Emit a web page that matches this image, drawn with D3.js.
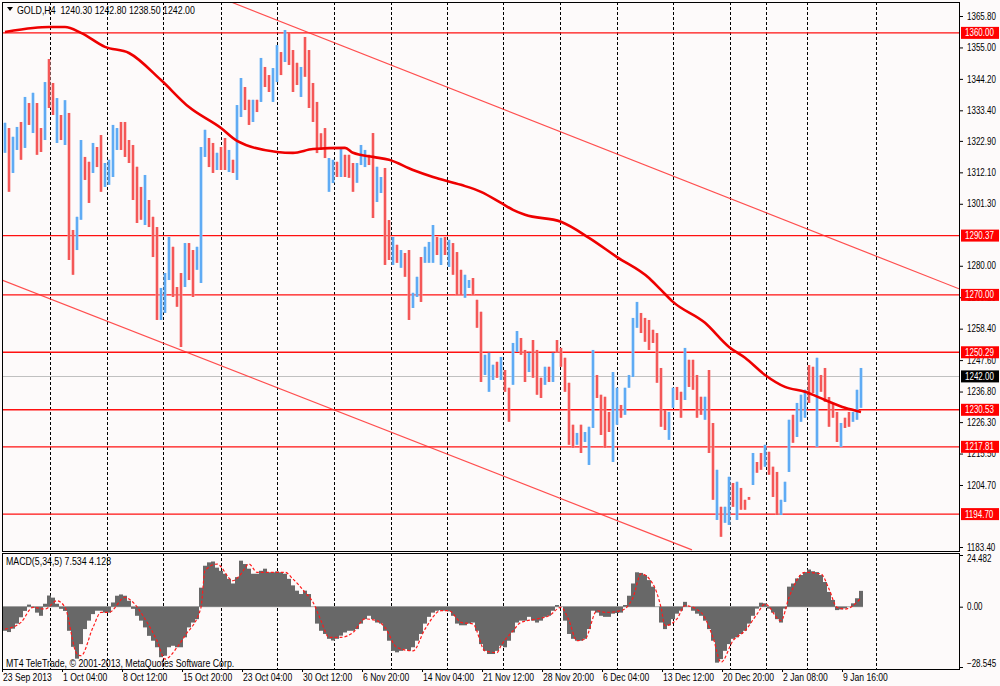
<!DOCTYPE html>
<html>
<head>
<meta charset="utf-8">
<script src="https://cdn.jsdelivr.net/npm/d3@7"></script>
<style>
body { margin: 0; background: #fdfafa; }
svg text { font-family: "Liberation Sans", Arial, sans-serif; font-size: 10px; fill: #000; }
</style>
</head>
<body>
<svg id="chart"></svg>
<script>
var screenWidth = 1000;
var screenHeight = 686;

// price bars (H4)
var highs = [1329.1,1327.3,1324.3,1327.7,1329.4,1338.0,1335.9,1339.4,1335.9,1327.3,
1343.1,1351.0,1342.8,1337.6,1331.8,1336.9,1332.5,1292.3,1296.8,1323.2,
1317.4,1315.7,1322.2,1320.8,1324.9,1315.3,1316.4,1328.4,1327.3,1329.4,
1329.4,1323.2,1321.5,1314.0,1307.1,1311.2,1302.6,1296.8,1293.3,1272.4,
1277.5,1289.9,1286.5,1272.7,1277.5,1287.8,1287.8,1285.4,1286.5,1320.8,
1326.7,1323.9,1322.2,1318.8,
1320.8,1323.9,1319.8,1316.4,1335.2,1344.5,1341.4,1337.0,1337.0,1337.0,
1351.4,1348.3,1345.5,1347.9,1355.8,1353.4,1361.0,1360.0,1354.1,1349.7,
1348.3,1358.6,1354.1,1342.8,1336.3,1325.5,1327.3,1317.0,1316.4,1315.7,
1320.5,1318.1,1318.1,1315.3,1315.3,1321.5,1319.8,1318.1,1325.6,1314.0,
1310.5,1313.6,1295.7,1289.9,1287.2,1285.4,1284.4,1285.4,1270.7,1276.2,
1283.0,1286.5,1288.2,1294.0,
1289.9,1289.6,1289.9,1288.9,1287.8,1284.7,1278.6,1276.9,1275.1,1275.8,
1268.3,1264.2,1249.4,1250.1,1246.0,1247.0,1248.7,1244.2,1238.1,1253.5,
1257.6,1255.2,1251.1,1250.1,1254.5,1251.1,1241.5,1245.3,1245.3,1250.1,
1254.5,1251.8,1248.4,1239.8,1225.4,1222.6,1225.4,1222.9,1224.7,1251.1,
1242.5,1235.7,1235.0,1229.8,1243.5,1238.1,1232.2,1238.1,1242.5,1262.1,
1267.6,1263.8,1262.1,1261.4,
1258.0,1256.9,1244.9,1230.5,1229.8,1238.1,1238.4,1236.7,1251.8,1247.7,
1247.7,1242.5,1235.0,1235.0,1244.2,1226.0,1209.9,1197.2,1197.2,1207.5,
1205.4,1205.8,1203.7,1199.6,1200.6,1215.7,1212.6,1215.7,1218.5,1216.1,
1211.0,1209.2,1199.6,1205.8,1227.1,1228.8,1232.9,1235.7,1237.4,1245.9,
1245.3,1248.4,1242.5,1244.9,1234.9,1232.9,1229.8,1226.0,1227.8,1229.8,
1229.8,1237.4,1244.9];

var lows = [1318.8,1305.4,1311.9,1319.8,1316.4,1320.5,1328.4,1325.6,1318.1,1319.1,
1323.2,1334.2,1331.8,1322.2,1323.2,1321.5,1282.0,1276.9,1285.4,1295.8,
1309.5,1301.6,1311.9,1313.9,1305.4,1307.1,1307.8,1310.5,1319.8,1319.8,
1317.4,1315.3,1302.6,1294.7,1295.8,1294.0,1293.3,1283.0,1261.4,1261.4,
1263.8,1275.1,1269.3,1265.9,1252.1,1272.7,1275.1,1269.3,1278.6,1274.1,
1317.4,1313.9,1311.9,1312.9,
1312.9,1312.9,1312.2,1311.9,1309.5,1331.1,1333.5,1328.4,1329.4,1332.8,
1336.3,1341.4,1339.7,1336.3,1343.1,1345.5,1350.0,1349.0,1339.7,1342.1,
1338.0,1344.9,1334.2,1329.4,1318.7,1319.8,1317.0,1305.4,1308.4,1310.5,
1310.5,1310.5,1310.2,1305.4,1308.5,1314.6,1313.9,1314.6,1296.4,1301.9,
1305.0,1280.3,1282.0,1280.3,1281.0,1279.3,1276.2,1261.4,1265.5,1269.3,
1267.6,1281.0,1281.0,1281.0,
1283.7,1280.3,1283.7,1279.6,1276.9,1270.0,1270.0,1269.0,1272.4,1270.0,
1258.7,1240.1,1242.5,1236.7,1240.8,1241.5,1240.8,1236.7,1226.4,1239.1,
1250.4,1249.4,1240.1,1243.5,1241.5,1235.7,1234.6,1239.1,1240.1,1240.1,
1250.1,1245.3,1236.7,1218.5,1217.5,1218.5,1215.7,1219.5,1211.6,1224.3,
1234.6,1221.9,1217.5,1222.9,1212.6,1225.4,1227.8,1228.8,1238.1,1241.8,
1258.7,1256.9,1253.9,1251.1,
1253.5,1239.8,1224.7,1223.6,1220.2,1231.2,1233.9,1227.8,1233.9,1238.4,
1237.4,1227.8,1228.8,1227.1,1215.7,1199.6,1192.7,1186.9,1191.7,1191.0,
1197.2,1192.7,1196.2,1196.2,1199.6,1204.7,1208.9,1209.9,1211.0,1208.2,
1200.6,1194.4,1194.4,1198.9,1209.2,1219.2,1221.2,1226.4,1227.8,1232.9,
1236.3,1217.8,1236.7,1233.3,1224.7,1227.8,1219.5,1217.8,1224.3,1224.7,
1226.4,1227.1,1231.2];

// u = bull bar, d = bear bar
var dirs = "uduudududd" + "uddududduu" + "ddudduuuud" + "dddddudddu" + "uudddudduu" + "uddu" +
  "dduduuddud" + "udduududdd" + "udddddduud" + "uddduuuddu" + "uddududduu" + "duuu" +
  "dududdduud" + "dduuududdu" + "uddudddudu" + "ddddduduuu" + "dddduuduuu" + "uddd" +
  "dddduuddud" + "dddudduduu" + "duddduddud" + "dduuuduuud" + "dudddddudd" + "uuu";

// moving average, [bar index, price]
var maIdx = [0,7,11,15,19,25,31,39,46,54,58,68,72,77,85,87,92,96,102,107,114,119,124,127,130,139,146,153,161,164,167,175,181,185,190,195,200,205,210,214];
var maVal = [1360.3,1361.7,1362.0,1362.0,1360.0,1355.2,1353.1,1343.8,1334.5,1327.3,1322.9,1319.1,1318.8,1320.1,1320.5,1318.8,1317.4,1316.4,1312.9,1310.5,1307.8,1305.4,1301.6,1299.2,1297.5,1295.1,1289.6,1283.0,1275.8,1271.7,1267.6,1260.4,1252.1,1248.4,1242.5,1238.4,1236.7,1233.9,1231.2,1229.8];

// horizontal levels and the channel
var levels = [1360.00, 1290.37, 1270.00, 1250.29, 1230.53, 1217.81, 1194.70];
var lastPrice = 1242.00;
var upperChannel = [[56.5, 1370.6], [238.5, 1272.1]];
var lowerChannel = [[-0.75, 1275.1], [171.75, 1182.4]];

// MACD(5,34,5)
var macd = [-11.4,-12,-10.4,-8,-5,-2,1,-0.5,-2.8,-4.3,
1.4,5.3,4.3,1.4,-1,-2,-11.4,-19,-24.6,-17.7,
-10.6,-6.6,-3.5,-1.9,-1.9,-2.8,-2.8,2,5.2,5.8,
5.2,2.8,-1,-4.3,-6.6,-9.8,-13.8,-16.1,-19.2,-23.9,
-23.2,-19.2,-18.5,-19.2,-19.2,-14.5,-9.8,-7.5,-5.9,9,
19.4,21,21.4,18.5,17,15.6,13.2,11,14,21.8,
20.2,18,15.6,15.6,17,18,16.3,16.3,16.7,16.3,
15.6,13.2,10.1,7.6,6,7.6,6,0,-8,-11.4,
-12.9,-15.2,-16,-15.2,-13.7,-12.2,-11.4,-11.4,-10.6,-8,
-5.9,-4.3,-5.9,-7.5,-8,-11.4,-16.1,-20.9,-21.6,-20.9,
-20,-20.9,-19.2,-16.1,-12.9,-8,-4.8,-2.8,-1.9,-1.6,
-1.9,-2.2,-4.3,-8,-8.8,-8.8,-8,-7.5,-11.4,-17.7,
-20.9,-22.4,-22.4,-20.9,
-18.5,-19.2,-16.1,-12.2,-7.5,-6.6,-6.6,-4.8,-6.6,-7.5,
-6.6,-4.8,-4.3,-1.9,0.8,0,-6.6,-12.9,-15.2,-16.1,
-16.1,-15.2,-10.6,-1.9,-2.8,-4.3,-4.8,-4.8,-3.3,-3,
-2.8,0.8,5.2,11,16.3,16,15,12.6,9.5,0,
-7.5,-10.6,-8.8,-5.9,-3.3,-1.9,2.3,0,-1.9,-3.3,
-4.3,-6.6,-10.6,-16.1,-26.5,-24.8,-20.9,-17.7,-15.2,-14.5,
-12.9,-11.4,-8,-4.3,-0.9,1.9,1.6,-0.9,-2.8,-5.9,
-7.5,-0.9,9.5,11,13.4,15,16.4,17.6,16.8,16.4,
15,11.7,7,3.2,-1.6,-1.3,-0.8,0,1.6,4,
7.5];
var sigIdx = [0,4,7,10,13,15,18,19,22,24,26,30,32,35,38,40,43,45,49,50,53,57,59,61,63,65,70,72,75,77,79,81,84,87,90,93,95,98,102,105,109,111,114,117,120,123,
124,127,129,133,136,139,141,143,145,148,150,154,157,159,162,164,165,168,170,174,177,179,182,185,188,190,194,196,200,204,206,208,210,214];
var sigVal = [-10.6,-7.4,-0.3,-1.1,2.8,-0.3,-22.4,-23.2,-9.8,-2.7,-2.7,4.4,2.1,-5.8,-16.1,-24.8,-19.3,-13.7,-0.3,17.1,20.2,12.3,15.5,20.2,16.3,16.3,16.3,13.1,6.8,2.1,-6.6,-14.5,-14.5,-12.2,-5.8,-6.6,-9.8,-19.3,-20.9,-10.6,-1.9,-1.9,-7.4,-8.2,-20.9,-21.7,
-18.5,-11.4,-7.4,-5.8,-4.3,-0.3,-6.6,-16.1,-15.3,-1.9,-2.7,-1.9,4.4,15.5,10.7,-0.3,-9.0,-5.8,0.5,-2.7,-14.5,-26.3,-16.1,-11.4,-3.5,1.3,-6.6,4.4,16.3,15.5,8.4,-0.3,-1.1,4.1];
var macdTicks = [24.482, 0, -28.545];

// price axis and time axis labels (ticks fully hidden by the level boxes are left out)
var priceTicks = [1365.80,1355.00,1344.20,1333.40,1322.90,1312.10,1301.30,1280.00,1269.20,1258.40,1247.60,1236.80,1226.30,1215.50,1204.70,1183.40];
var gridIdx = [11.25,25.5,39.5,54,68,82.25,96.5,110.5,124.5,138.75,153,167,181.25,190.25,200.5,217.75];
var timeIdx = [0,15,30,45,60,75,90,105,120,135,150,165,180,195,210];
var timeLabels = ["23 Sep 2013","1 Oct 04:00","8 Oct 12:00","15 Oct 20:00","23 Oct 04:00","30 Oct 12:00","6 Nov 20:00","14 Nov 04:00","21 Nov 12:00","28 Nov 20:00","6 Dec 04:00","13 Dec 12:00","20 Dec 20:00","2 Jan 08:00","9 Jan 16:00"];

var left = 2, right = 959;
var mainTop = 2, mainBottom = 551;
var subTop = 553, subBottom = 669;

var x = d3.scaleLinear().domain([-0.75, 238.5]).range([left, right]);
var y = d3.scaleLinear().domain([1183.4, 1365.8]).range([547, 16]);
var ym = d3.scaleLinear().domain([-28.545, 24.482]).range([667, 555]);

// narrow the glyphs like the terminal font (horizontal scale only)
function squeeze(sel, k) {
	sel.each(function() {
		var t = d3.select(this);
		var tx = +t.attr('x') || 0, ty = +t.attr('y') || 0;
		t.attr('x', 0).attr('y', 0)
			.attr('transform', 'translate(' + tx + ',' + ty + ') scale(' + k + ',1)');
	});
}

var svg = d3.select('#chart')
	.attr('width', screenWidth)
	.attr('height', screenHeight);

svg.append('rect').attr('width', screenWidth).attr('height', screenHeight).attr('fill', '#fdfafa');

var defs = svg.append('defs');
defs.append('clipPath').attr('id', 'clipMain').append('rect')
	.attr('x', left).attr('y', mainTop).attr('width', right - left).attr('height', mainBottom - mainTop);
defs.append('clipPath').attr('id', 'clipSub').append('rect')
	.attr('x', left).attr('y', subTop).attr('width', right - left).attr('height', subBottom - subTop);

// vertical grid
[[mainTop, mainBottom], [subTop, subBottom]].forEach(function(r) {
	svg.append('g').selectAll('line')
		.data(gridIdx)
		.enter()
		.append('line')
		.attr('x1', function(d) { return Math.round(x(d)) + 0.5; })
		.attr('x2', function(d) { return Math.round(x(d)) + 0.5; })
		.attr('y1', r[0]).attr('y2', r[1])
		.attr('stroke', '#000').attr('stroke-width', 1).attr('stroke-dasharray', '3,2');
});

var main = svg.append('g').attr('clip-path', 'url(#clipMain)');

// last price line
main.append('line')
	.attr('x1', left).attr('x2', right)
	.attr('y1', Math.round(y(lastPrice)) + 0.5).attr('y2', Math.round(y(lastPrice)) + 0.5)
	.attr('stroke', '#c0c0c0').attr('stroke-width', 1);

// levels
main.selectAll('line.level')
	.data(levels)
	.enter()
	.append('line')
	.classed('level', true)
	.attr('x1', left).attr('x2', right)
	.attr('y1', function(d) { return y(d); })
	.attr('y2', function(d) { return y(d); })
	.attr('stroke', '#ff1010').attr('stroke-width', 1.4);

// channel
var chLine = d3.line().x(function(d) { return x(d[0]); }).y(function(d) { return y(d[1]); });
[upperChannel, lowerChannel].forEach(function(c) {
	main.append('path').attr('d', chLine(c))
		.attr('fill', 'none').attr('stroke', '#ff3030').attr('stroke-width', 1.2).attr('stroke-opacity', 0.85);
});

// bars
var bars = highs.map(function(h, i) { return { i: i, h: h, l: lows[i], d: dirs[i] || 'u' }; });
main.selectAll('rect.bar')
	.data(bars)
	.enter()
	.append('rect')
	.classed('bar', true)
	.attr('x', function(d) { return x(d.i) - 1.5; })
	.attr('width', 3)
	.attr('y', function(d) { return y(d.h); })
	.attr('height', function(d) { return Math.max(1, y(d.l) - y(d.h)); })
	.attr('fill', function(d) { return d.d == 'u' ? '#94c8f7' : '#f79a9a'; });
main.selectAll('line.bar')
	.data(bars)
	.enter()
	.append('line')
	.classed('bar', true)
	.attr('x1', function(d) { return x(d.i); })
	.attr('x2', function(d) { return x(d.i); })
	.attr('y1', function(d) { return y(d.h); })
	.attr('y2', function(d) { return y(d.l); })
	.attr('stroke', function(d) { return d.d == 'u' ? '#3d98f2' : '#f22c2c'; })
	.attr('stroke-width', 1.2);

// moving average
var maLine = d3.line()
	.x(function(d, i) { return x(maIdx[i]); })
	.y(function(d) { return y(d); })
	.curve(d3.curveMonotoneX);
main.append('path').attr('d', maLine(maVal))
	.attr('fill', 'none').attr('stroke', '#ee0000').attr('stroke-width', 2.6);

// MACD panel
var sub = svg.append('g').attr('clip-path', 'url(#clipSub)');
sub.append('line')
	.attr('x1', x(0) - 2).attr('x2', x(macd.length - 1) + 2)
	.attr('y1', ym(0)).attr('y2', ym(0))
	.attr('stroke', '#a8a8a8').attr('stroke-width', 1);
sub.selectAll('rect')
	.data(macd)
	.enter()
	.append('rect')
	.attr('x', function(d, i) { return x(i) - 2; })
	.attr('width', 4)
	.attr('y', function(d) { return Math.min(ym(d), ym(0)); })
	.attr('height', function(d) { return Math.abs(ym(d) - ym(0)); })
	.attr('fill', '#686868');
var sigLine = d3.line()
	.x(function(d, i) { return x(sigIdx[i]); })
	.y(function(d) { return ym(d); })
	.curve(d3.curveMonotoneX);
sub.append('path').attr('d', sigLine(sigVal))
	.attr('fill', 'none').attr('stroke', '#ff1a1a').attr('stroke-width', 1.2).attr('stroke-dasharray', '3,2');

// frames
svg.append('rect').attr('x', left + 0.5).attr('y', mainTop + 0.5).attr('width', right - left).attr('height', mainBottom - mainTop)
	.attr('fill', 'none').attr('stroke', '#000').attr('stroke-width', 1);
svg.append('rect').attr('x', left + 0.5).attr('y', subTop + 0.5).attr('width', right - left).attr('height', subBottom - subTop)
	.attr('fill', 'none').attr('stroke', '#000').attr('stroke-width', 1);

// price axis
var yAxis = d3.axisRight(y).tickValues(priceTicks).tickSize(3).tickPadding(4)
	.tickFormat(d3.format('.2f'));
var gy = svg.append('g').attr('transform', 'translate(' + (right + 1) + ',0)').call(yAxis);
gy.select('.domain').remove();
gy.selectAll('text').style('font-size', '10px').style('font-family', '"Liberation Sans", Arial, sans-serif');
squeeze(gy.selectAll('text'), 0.8);

// level labels
var boxes = svg.append('g');
levels.forEach(function(v) {
	boxes.append('rect').attr('x', right + 2).attr('y', y(v) - 6).attr('width', 38).attr('height', 12).attr('fill', '#ff0000');
	boxes.append('text').attr('x', right + 6).attr('y', y(v) + 3.5).text(d3.format('.2f')(v)).style('fill', '#fff');
});
boxes.append('rect').attr('x', right + 2).attr('y', y(lastPrice) - 6).attr('width', 38).attr('height', 12).attr('fill', '#000');
boxes.append('text').attr('x', right + 6).attr('y', y(lastPrice) + 3.5).text(d3.format('.2f')(lastPrice)).style('fill', '#fff');
squeeze(boxes.selectAll('text'), 0.8);

// MACD axis
var ymAxis = d3.axisRight(ym).tickValues(macdTicks).tickSize(3).tickPadding(4)
	.tickFormat(function(d) { return d == 0 ? '0.00' : d3.format('.3f')(d); });
var gm = svg.append('g').attr('transform', 'translate(' + (right + 1) + ',0)').call(ymAxis);
gm.select('.domain').remove();
gm.selectAll('text')
	.style('font-size', '10px').style('font-family', '"Liberation Sans", Arial, sans-serif')
	.attr('dy', function(d) { return d > 20 ? '0.65em' : (d < -20 ? '-0.1em' : '0.32em'); });
squeeze(gm.selectAll('text'), 0.8);

// time axis
var gt = svg.append('g');
gt.selectAll('line')
	.data(timeIdx)
	.enter()
	.append('line')
	.attr('x1', function(d) { return Math.round(x(d)) - 2.5; })
	.attr('x2', function(d) { return Math.round(x(d)) - 2.5; })
	.attr('y1', subBottom).attr('y2', subBottom + 3)
	.attr('stroke', '#000');
gt.selectAll('text')
	.data(timeIdx)
	.enter()
	.append('text')
	.attr('x', function(d) { return x(d) - 2; })
	.attr('y', 681)
	.text(function(d, i) { return timeLabels[i]; });
squeeze(gt.selectAll('text'), 0.86);

// titles
svg.append('path').attr('d', 'M7,7 L13,7 L10,11 Z').attr('fill', '#000');
var titles = svg.append('g');
titles.append('text').attr('x', 17).attr('y', 14)
	.attr('xml:space', 'preserve')
	.text('GOLD,H4  1240.30 1242.80 1238.50 1242.00');
titles.append('text').attr('x', 6).attr('y', 565)
	.text('MACD(5,34,5) 7.534 4.128');
titles.append('text').attr('x', 6).attr('y', 667)
	.text('MT4 TeleTrade, \u00a9 2001-2013, MetaQuotes Software Corp.');
squeeze(titles.selectAll('text'), 0.88);
</script>
</body>
</html>
